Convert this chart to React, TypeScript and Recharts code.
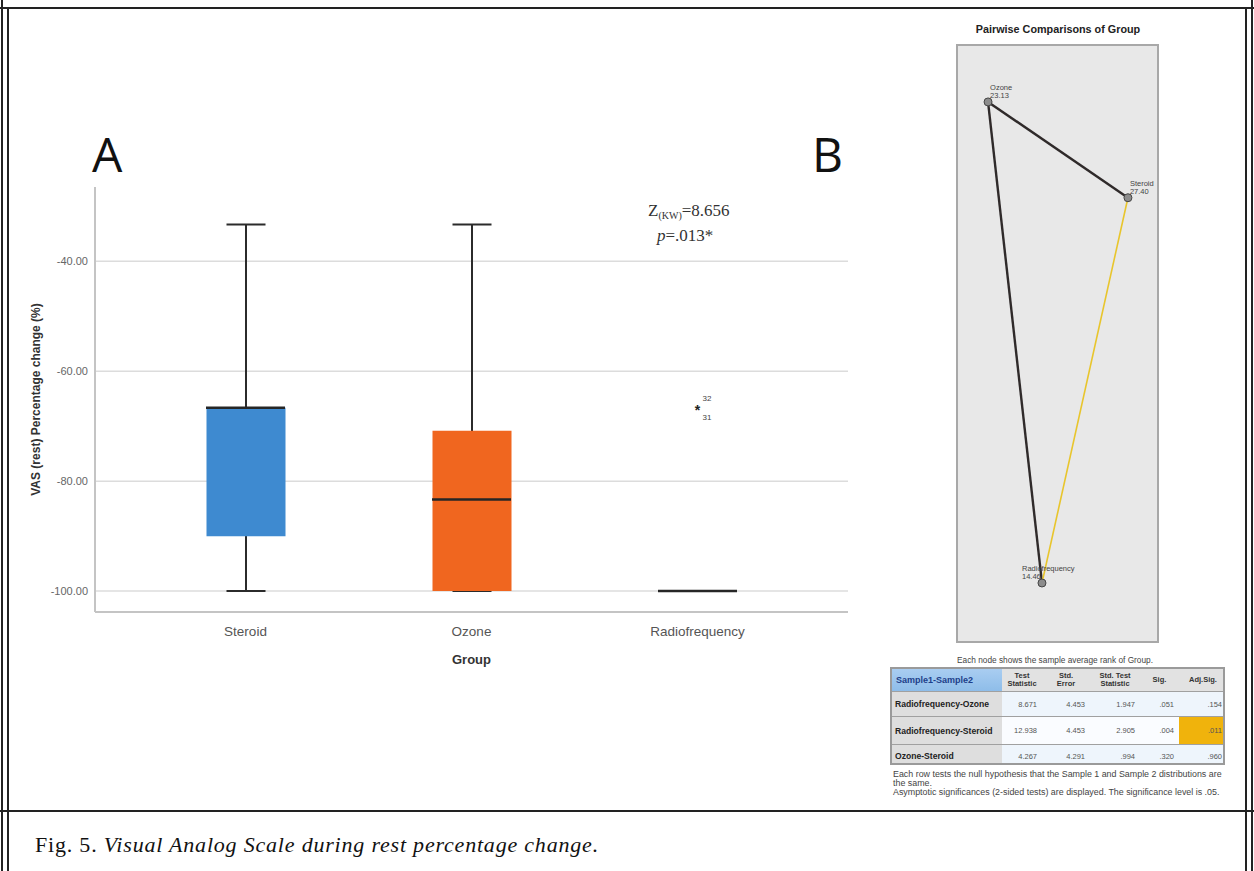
import React from 'react';
import {
  ComposedChart,
  ScatterChart,
  Bar,
  Scatter,
  XAxis,
  YAxis,
  CartesianGrid,
  Cell,
} from 'recharts';

// Panel A: box plot values (VAS rest, percentage change)
const groups = ['Steroid', 'Ozone', 'Radiofrequency'];
const whiskerLow = [-100, -100, -100];
const whiskerHigh = [-33.33, -33.33, -100];
const q1 = [-90, -100, -100];
const q3 = [-66.67, -70.83, -100];
const medians = [-66.67, -83.33, -100];
const outliers = [null, null, -66.67];
const outlierIds = [[], [], ['32', '31']];
const yTicks = [-100, -80, -60, -40];

// Panel B: pairwise comparison nodes (average ranks) and edges
const nodeNames = ['Ozone', 'Steroid', 'Radiofrequency'];
const nodeRanks = ['23.13', '27.40', '14.46'];
const nodeLayoutX = [0.151, 0.854, 0.422];
const nodeLayoutY = [0.906, 0.745, 0.0975];
const edges = [
  ['Ozone', 'Steroid'],
  ['Ozone', 'Radiofrequency'],
  ['Steroid', 'Radiofrequency'],
];
const edgeSignificant = [false, false, true];

// Panel B table
const pairs = ['Radiofrequency-Ozone', 'Radiofrequency-Steroid', 'Ozone-Steroid'];
const testStat = ['8.671', '12.938', '4.267'];
const stdError = ['4.453', '4.453', '4.291'];
const stdTestStat = ['1.947', '2.905', '.994'];
const sig = ['.051', '.004', '.320'];
const adjSig = ['.154', '.011', '.960'];

const boxColors = ['#3e8ad0', '#f0661f', 'none'];
const BOX_W = 79;
const CAP_W = 39;
const sans = '"Liberation Sans", Arial, sans-serif';
const serif = '"Liberation Serif", "Times New Roman", serif';

const boxData = groups.map((g, i) => ({
  group: g,
  whisker: [whiskerLow[i], whiskerHigh[i]],
  box: [q1[i], q3[i]],
  median: medians[i],
  outlier: outliers[i],
  ids: outlierIds[i],
}));

const nodes = nodeNames.map((n, i) => ({ name: n, rank: nodeRanks[i], x: nodeLayoutX[i], y: nodeLayoutY[i] }));
const nodeByName = (n: string) => nodes.find((d) => d.name === n)!;

const WhiskerShape = (props: any) => {
  const { x, y, width, height } = props;
  if (!height || Math.abs(height) < 0.5) return <g />;
  const top = Math.min(y, y + height);
  const bottom = Math.max(y, y + height);
  const cx = x + width / 2;
  const s = { stroke: '#2b2b2b', strokeWidth: 2 };
  return (
    <g>
      <line x1={cx} x2={cx} y1={top} y2={bottom} {...s} />
      <line x1={x} x2={x + width} y1={top} y2={top} {...s} />
      <line x1={x} x2={x + width} y1={bottom} y2={bottom} {...s} />
    </g>
  );
};

const MedianShape = (props: any) => {
  const { cx, cy } = props;
  if (cx == null || cy == null || isNaN(cy)) return <g />;
  return <line x1={cx - BOX_W / 2} x2={cx + BOX_W / 2} y1={cy} y2={cy} stroke="#262626" strokeWidth={2.5} />;
};

const OutlierShape = (props: any) => {
  const { cx, cy, payload } = props;
  if (payload == null || payload.outlier == null || cy == null || isNaN(cy)) return <g />;
  const ids: string[] = payload.ids || [];
  return (
    <g fontFamily={sans}>
      <text x={cx} y={cy + 7} textAnchor="middle" fontSize={14} fontWeight={700} fill="#222">*</text>
      {ids.map((id, k) => (
        <text key={id} x={cx + 5} y={k === 0 ? cy - 7 : cy + 12} fontSize={8} fill="#444">
          {id}
        </text>
      ))}
    </g>
  );
};

const labelShift: Record<string, number> = { Radiofrequency: -20 };

const NodeShape = (props: any) => {
  const { cx, cy, payload } = props;
  const dx = labelShift[payload.name] ?? 2;
  return (
    <g fontFamily={sans}>
      <text x={cx + dx} y={cy - 12} fontSize={7.5} fill="#444">{payload.name}</text>
      <text x={cx + dx} y={cy - 4} fontSize={7.5} fill="#444">{payload.rank}</text>
      <circle cx={cx} cy={cy} r={4} fill="#8c8c8c" stroke="#444" strokeWidth={1} />
    </g>
  );
};

const noShape = () => <g />;

function BoxPlot() {
  const axisPad = { left: 37.5, right: 37.5 };
  return (
    <ComposedChart
      width={870}
      height={680}
      data={boxData}
      margin={{ top: 187, right: 22, bottom: 20, left: 30 }}
    >
      <CartesianGrid vertical={false} horizontalValues={yTicks} stroke="#dcdcdc" strokeWidth={1.5} />
      <XAxis
        dataKey="group"
        type="category"
        padding={axisPad}
        axisLine={{ stroke: '#c4c4c4', strokeWidth: 2 }}
        tickLine={false}
        tickMargin={8}
        tick={{ fontSize: 13.5, fill: '#555', fontFamily: sans }}
        height={48}
        label={{ value: 'Group', position: 'insideBottom', offset: -4, style: { fontSize: 13, fontWeight: 700, fill: '#333', fontFamily: sans } }}
      />
      <XAxis xAxisId="w" dataKey="group" type="category" padding={axisPad} hide />
      <YAxis
        type="number"
        domain={[-103.8, -26.5]}
        allowDataOverflow
        ticks={yTicks}
        tickFormatter={(v: number) => v.toFixed(2)}
        width={65}
        axisLine={{ stroke: '#c4c4c4', strokeWidth: 2 }}
        tickLine={false}
        tickMargin={1}
        tick={{ fontSize: 11, fill: '#666', fontFamily: sans }}
        label={{
          value: 'VAS (rest) Percentage change (%)',
          angle: -90,
          position: 'center',
          dx: -27,
          style: { fontSize: 12, fontWeight: 700, fill: '#333', fontFamily: sans, textAnchor: 'middle' },
        }}
      />
      <Bar xAxisId="w" dataKey="whisker" barSize={CAP_W} shape={WhiskerShape} isAnimationActive={false} />
      <Bar dataKey="box" barSize={BOX_W} isAnimationActive={false}>
        {boxData.map((d, i) => (
          <Cell key={d.group} fill={boxColors[i]} />
        ))}
      </Bar>
      <Scatter dataKey="median" shape={MedianShape} isAnimationActive={false} />
      <Scatter dataKey="outlier" shape={OutlierShape} isAnimationActive={false} />
    </ComposedChart>
  );
}

function PairwiseGraph() {
  return (
    <ScatterChart width={199} height={595} margin={{ top: 0, right: 0, bottom: 0, left: 0 }}>
      <XAxis type="number" dataKey="x" domain={[0, 1]} hide />
      <YAxis type="number" dataKey="y" domain={[0, 1]} hide />
      {edges.map((e, i) => (
        <Scatter
          key={e.join('-')}
          data={[nodeByName(e[0]), nodeByName(e[1])]}
          line={{ stroke: edgeSignificant[i] ? '#e8c52c' : '#2f2a2a', strokeWidth: edgeSignificant[i] ? 1.6 : 2.4 }}
          shape={noShape}
          isAnimationActive={false}
        />
      ))}
      <Scatter data={nodes} shape={NodeShape} isAnimationActive={false} />
    </ScatterChart>
  );
}

const colLeft = [0, 110, 150, 198, 248, 287];
const colWidth = [110, 40, 48, 50, 39, 48];

function ComparisonTable() {
  const headers = [['Sample1-Sample2'], ['Test', 'Statistic'], ['Std.', 'Error'], ['Std. Test', 'Statistic'], ['Sig.'], ['Adj.Sig.']];
  const rows = pairs.map((p, i) => [p, testStat[i], stdError[i], stdTestStat[i], sig[i], adjSig[i]]);
  const rowTop = [23, 48, 76];
  const rowH = [25, 28, 22];
  return (
    <div
      style={{
        position: 'absolute',
        left: 890,
        top: 667,
        width: 335,
        height: 98,
        border: '2px solid #9a9a9a',
        boxSizing: 'border-box',
        background: '#eef5fc',
        fontFamily: sans,
        fontSize: 8,
        fontWeight: 700,
        overflow: 'hidden',
      }}
    >
      {headers.map((h, c) => (
        <div
          key={c}
          style={{
            position: 'absolute',
            left: colLeft[c],
            top: 0,
            width: colWidth[c],
            height: 23,
            background: c === 0 ? 'linear-gradient(#a9cdf1, #8ebde9)' : '#e2e2e2',
            color: c === 0 ? '#1d3f8a' : '#333',
            fontSize: c === 0 ? 9 : 7.5,
            display: 'flex',
            flexDirection: 'column',
            justifyContent: 'center',
            alignItems: c === 0 ? 'flex-start' : 'center',
            paddingLeft: c === 0 ? 4 : 0,
            boxSizing: 'border-box',
            lineHeight: '8px',
            borderBottom: '1px solid #a0a0a0',
          }}
        >
          {h.map((t) => (
            <span key={t}>{t}</span>
          ))}
        </div>
      ))}
      {rows.map((r, i) =>
        r.map((v, c) => (
          <div
            key={i + '-' + c}
            style={{
              position: 'absolute',
              left: colLeft[c],
              top: rowTop[i],
              width: colWidth[c],
              height: rowH[i],
              background:
                c === 0 ? '#dedede' : c === 5 && i === 1 ? '#f0b30c' : i === 1 ? '#fafcff' : '#eef5fc',
              color: c === 0 ? '#222' : '#555',
              fontWeight: c === 0 ? 700 : 400,
              fontSize: c === 0 ? 8.6 : 7.5,
              display: 'flex',
              alignItems: 'center',
              justifyContent: c === 0 ? 'flex-start' : 'flex-end',
              padding: c === 0 ? '0 0 0 3px' : '0 5px 0 0',
              boxSizing: 'border-box',
              borderBottom: i < 2 ? '1px solid #a0a0a0' : 'none',
              whiteSpace: 'nowrap',
            }}
          >
            {v}
          </div>
        ))
      )}
    </div>
  );
}

export default function App() {
  return (
    <div style={{ position: 'absolute', left: 0, top: 0, width: 1254, height: 871, background: '#fff', overflow: 'hidden' }}>
      {/* frame */}
      <div style={{ position: 'absolute', left: 0, top: 7, width: 1254, height: 2, background: '#222' }} />
      <div style={{ position: 'absolute', left: 1, top: 0, width: 2, height: 871, background: '#222' }} />
      <div style={{ position: 'absolute', left: 7, top: 7, width: 2, height: 864, background: '#222' }} />
      <div style={{ position: 'absolute', left: 1245, top: 7, width: 2, height: 864, background: '#222' }} />
      <div style={{ position: 'absolute', left: 1251, top: 0, width: 2, height: 871, background: '#222' }} />
      <div style={{ position: 'absolute', left: 0, top: 810, width: 1254, height: 2, background: '#222' }} />

      <div style={{ position: 'absolute', left: 0, top: 0 }}>
        <BoxPlot />
      </div>

      <div
        style={{
          position: 'absolute',
          left: 956,
          top: 44,
          width: 203,
          height: 599,
          background: '#e8e8e8',
          border: '2px solid #a8a8a8',
          boxSizing: 'border-box',
        }}
      >
        <PairwiseGraph />
      </div>

      <ComparisonTable />

      <svg width={1254} height={871} style={{ position: 'absolute', left: 0, top: 0, pointerEvents: 'none' }}>
        <text x={92} y={172} fontFamily='"Open Sans", sans-serif' fontSize={48} fill="#111">A</text>
        <text x={812} y={172} fontFamily='"Open Sans", sans-serif' fontSize={48} fill="#111">B</text>
        <text x={648} y={216} fontFamily={serif} fontSize={17} fill="#333">
          Z<tspan fontSize={10} dy={3}>(KW)</tspan>
          <tspan dy={-3}>=8.656</tspan>
        </text>
        <text x={657} y={241} fontFamily={serif} fontSize={17} fill="#333">
          <tspan fontStyle="italic">p</tspan>=.013*
        </text>
        <text x={1058} y={33} textAnchor="middle" fontFamily={sans} fontSize={10.8} fontWeight={700} fill="#222">
          Pairwise Comparisons of Group
        </text>
        <text x={1055} y={663} textAnchor="middle" fontFamily={sans} fontSize={8.3} fill="#444">
          Each node shows the sample average rank of Group.
        </text>
        <g fontFamily={sans} fontSize={8.9} fill="#444">
          <text x={893} y={777}>Each row tests the null hypothesis that the Sample 1 and Sample 2 distributions are</text>
          <text x={893} y={786}>the same.</text>
          <text x={893} y={795}>Asymptotic significances (2-sided tests) are displayed. The significance level is .05.</text>
        </g>
        <text x={35} y={852} fontFamily={serif} fontSize={22} letterSpacing={0.8} fill="#111">
          Fig. 5. <tspan fontStyle="italic">Visual Analog Scale during rest percentage change.</tspan>
        </text>
      </svg>
    </div>
  );
}
